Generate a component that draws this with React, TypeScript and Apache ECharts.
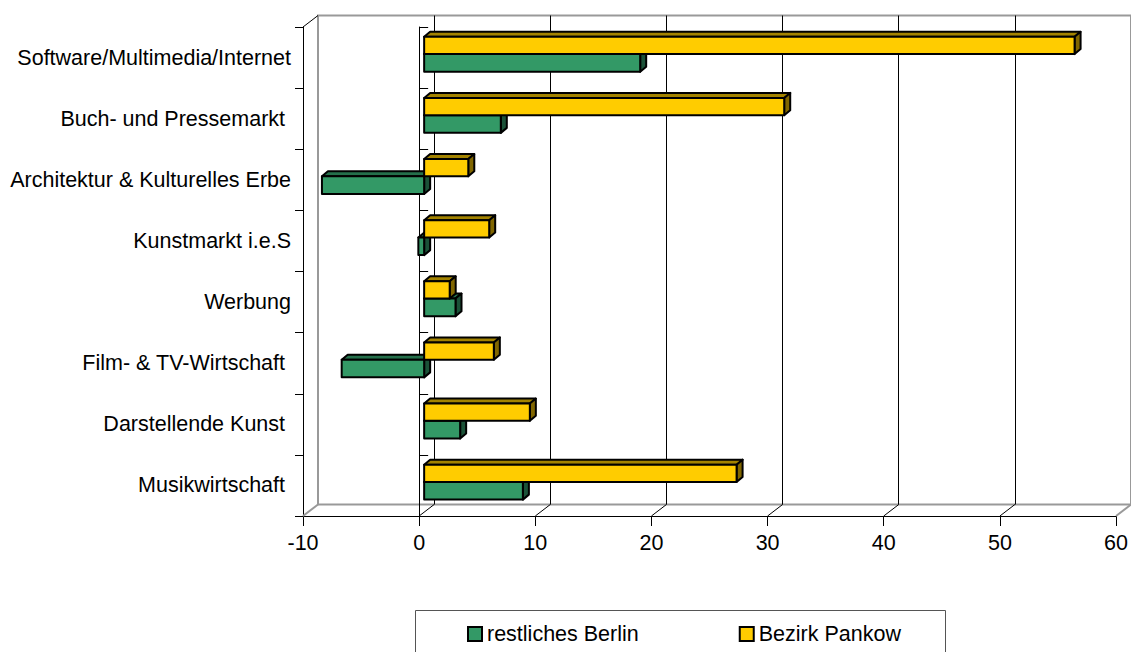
import React, { useEffect, useRef } from "react";
import * as echarts from "echarts";

const categories = [
  "Software/Multimedia/Internet",
  "Buch- und Pressemarkt ",
  "Architektur & Kulturelles Erbe",
  "Kunstmarkt i.e.S",
  "Werbung",
  "Film- & TV-Wirtschaft ",
  "Darstellende Kunst ",
  "Musikwirtschaft ",
];
const restlichesBerlin = [18.6, 6.6, -8.8, -0.5, 2.7, -7.1, 3.1, 8.5];
const bezirkPankow = [56.0, 31.0, 3.8, 5.6, 2.2, 6.0, 9.1, 26.9];
const xTicks = [-10, 0, 10, 20, 30, 40, 50, 60];
const seriesNames = ["restliches Berlin", "Bezirk Pankow"];

const FONT = "'Liberation Sans', Arial, sans-serif";
const DEPTH_X = 15;
const DEPTH_Y = -11.5;
const BAR_DX = 6;
const BAR_DY = -5;
const BAR_SHIFT = 5;

const palette = [
  { front: "#339966", top: "#25704B", side: "#1B5238" },
  { front: "#FFCC00", top: "#A38300", side: "#806600" },
];

function barRenderer(sIdx: number) {
  return (params: any, api: any) => {
    const v = api.value(0);
    const c = api.value(1);
    const p0 = api.coord([0, c]);
    const p1 = api.coord([v, c]);
    const band = api.size([0, 1])[1];
    const yc = p0[1];
    let yt: number, yb: number;
    if (sIdx === 1) {
      yt = yc - 0.34 * band;
      yb = yc - 0.057 * band;
    } else {
      yt = yc - 0.057 * band;
      yb = yc + 0.232 * band;
    }
    const xl = Math.min(p0[0], p1[0]) + BAR_SHIFT;
    const xr = Math.max(p0[0], p1[0]) + BAR_SHIFT;
    const col = palette[sIdx];
    const st = (fill: string) => ({
      fill,
      stroke: "#000",
      lineWidth: 2,
      lineJoin: "round",
    });
    return {
      type: "group",
      children: [
        {
          type: "polygon",
          shape: {
            points: [
              [xl, yt],
              [xr, yt],
              [xr + BAR_DX, yt + BAR_DY],
              [xl + BAR_DX, yt + BAR_DY],
            ],
          },
          style: st(col.top),
        },
        {
          type: "polygon",
          shape: {
            points: [
              [xr, yt],
              [xr + BAR_DX, yt + BAR_DY],
              [xr + BAR_DX, yb + BAR_DY],
              [xr, yb],
            ],
          },
          style: st(col.side),
        },
        {
          type: "rect",
          shape: { x: xl, y: yt, width: xr - xl, height: yb - yt },
          style: st(col.front),
        },
      ],
    };
  };
}

function frameRenderer(params: any, api: any) {
  const v = api.value(0);
  const x = api.coord([v, 0])[0];
  const cs = params.coordSys;
  const yb = cs.y + cs.height;
  const edge = v === xTicks[0] || v === xTicks[xTicks.length - 1];
  const children: any[] = [
    {
      type: "line",
      shape: { x1: x, y1: yb, x2: x + DEPTH_X, y2: yb + DEPTH_Y },
      style: { stroke: edge ? "#999" : "#000", lineWidth: edge ? 2 : 1 },
    },
  ];
  if (v === xTicks[0]) {
    children.push({
      type: "line",
      shape: { x1: x, y1: cs.y, x2: x + DEPTH_X, y2: cs.y + DEPTH_Y },
      style: { stroke: "#000", lineWidth: 1 },
    });
  }
  return { type: "group", children };
}

export default function App() {
  const ref = useRef<HTMLDivElement>(null);
  useEffect(() => {
    if (!ref.current) return;
    const chart = echarts.init(ref.current, null, { renderer: "svg" });
    const labelStyle = { color: "#000", fontSize: 21.5, fontFamily: FONT };
    chart.setOption({
      animation: false,
      backgroundColor: "#fff",
      grid: [
        { left: 303, top: 27, right: 14, bottom: 136, containLabel: false },
        {
          left: 318,
          top: 15.5,
          right: 0,
          bottom: 147.5,
          show: true,
          borderColor: "#999",
          borderWidth: 2,
          backgroundColor: "transparent",
          containLabel: false,
        },
      ],
      xAxis: [
        {
          type: "value",
          gridIndex: 0,
          min: -10,
          max: 60,
          interval: 10,
          axisLine: { show: true, lineStyle: { color: "#000", width: 1 } },
          axisTick: { show: true, length: 10, lineStyle: { color: "#000" } },
          axisLabel: { ...labelStyle, margin: 16 },
          splitLine: { show: false },
        },
        {
          type: "value",
          gridIndex: 1,
          min: -10,
          max: 60,
          interval: 10,
          axisLine: { show: false },
          axisTick: { show: false },
          axisLabel: { show: false },
          splitLine: {
            show: true,
            showMinLine: false,
            showMaxLine: false,
            lineStyle: { color: "#000", width: 1 },
          },
        },
      ],
      yAxis: [
        {
          type: "category",
          gridIndex: 0,
          inverse: true,
          data: categories,
          axisLine: { show: true, onZero: false, lineStyle: { color: "#000" } },
          axisTick: { show: true, length: 8, lineStyle: { color: "#000" } },
          axisLabel: { ...labelStyle, margin: 12 },
          splitLine: { show: false },
        },
        {
          type: "category",
          gridIndex: 0,
          inverse: true,
          data: categories,
          axisLine: { show: true, onZero: true, lineStyle: { color: "#000" } },
          axisTick: { show: true, length: 9, lineStyle: { color: "#000" } },
          axisLabel: { show: false },
          splitLine: { show: false },
        },
        {
          type: "value",
          gridIndex: 1,
          show: false,
        },
      ],
      legend: {
        data: [
          {
            name: seriesNames[0],
            icon: "rect",
            itemStyle: { color: palette[0].front, borderColor: "#000", borderWidth: 2 },
          },
          {
            name: seriesNames[1],
            icon: "rect",
            itemStyle: { color: palette[1].front, borderColor: "#000", borderWidth: 2 },
          },
        ],
        left: 467,
        top: 623,
        itemWidth: 14,
        itemHeight: 14,
        itemGap: 100,
        padding: 0,
        textStyle: { ...labelStyle, padding: [0, 0, 0, 0] },
      },
      graphic: [
        {
          type: "rect",
          shape: { x: 415.5, y: 610.5, width: 530, height: 60 },
          style: { fill: "none", stroke: "#555", lineWidth: 1 },
          silent: true,
        },
      ],
      series: [
        {
          type: "custom",
          name: "frame",
          xAxisIndex: 0,
          yAxisIndex: 0,
          silent: true,
          data: xTicks.map((t) => [t, 0]),
          encode: { x: 0, y: 1 },
          renderItem: frameRenderer,
          z: 1,
        },
        {
          type: "custom",
          name: seriesNames[0],
          xAxisIndex: 0,
          yAxisIndex: 0,
          data: restlichesBerlin.map((v, i) => [v, i]),
          encode: { x: 0, y: 1 },
          itemStyle: { color: palette[0].front },
          renderItem: barRenderer(0),
          z: 3,
        },
        {
          type: "custom",
          name: seriesNames[1],
          xAxisIndex: 0,
          yAxisIndex: 0,
          data: bezirkPankow.map((v, i) => [v, i]),
          encode: { x: 0, y: 1 },
          itemStyle: { color: palette[1].front },
          renderItem: barRenderer(1),
          z: 4,
        },
      ],
    });
    return () => chart.dispose();
  }, []);
  return (
    <div
      ref={ref}
      style={{ position: "fixed", left: 0, top: 0, width: 1131, height: 652 }}
    />
  );
}
